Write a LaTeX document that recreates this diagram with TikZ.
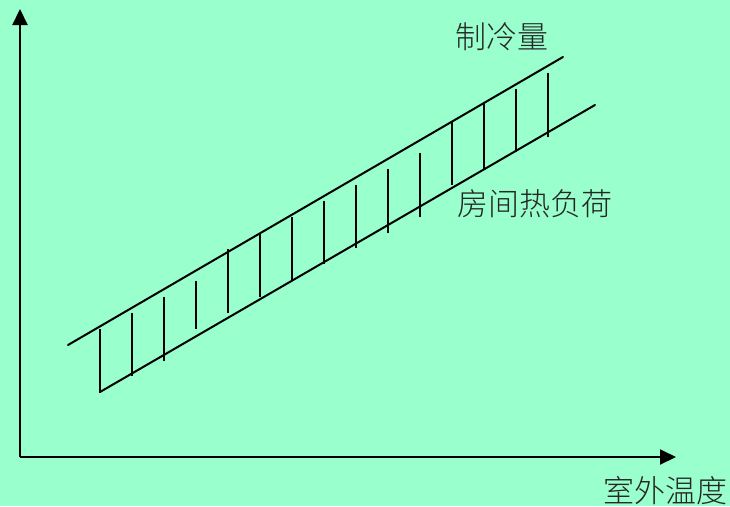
\documentclass[tikz,border=0pt]{standalone}
\usepackage{fontspec}
\newfontfamily\cjk{Noto Sans CJK SC Light}
\usetikzlibrary{arrows.meta}
\definecolor{bg}{RGB}{153,255,204}
\begin{document}
\begin{tikzpicture}[x=1pt,y=-1pt,
  axis/.style={line width=2pt,-{Triangle[length=16pt,width=15pt]}},
  band/.style={line width=2pt,line cap=round},
  bar/.style={line width=2pt},
  lbl/.style={inner sep=0pt,font=\cjk\fontsize{31}{31}\selectfont,text=black!85}]
\fill[bg] (0,0) rectangle (730,506);
\useasboundingbox (0,0) rectangle (730,506);
% axes
\coordinate (O) at (20,457);
\coordinate (Ytop) at (20,9);
\coordinate (Xend) at (676,457);
\draw[axis] (O) -- (Ytop);
\draw[axis] (O) -- (Xend);
% band lines
\coordinate (U1) at (68,345);
\coordinate (U2) at (563,57);
\coordinate (L1) at (100,392);
\coordinate (L2) at (595,105);
\draw[band] (U1) -- (U2);
\draw[band] (L1) -- (L2);
% vertical bars
\foreach \x/\a/\b in {100/329/393,132/313/376,164/297/361,196/281/329,228/249/313,260/233/297,292/217/281,324/201/264,356/185/248,388/169/233,420/153/217,452/121/185,484/104/169,516/89/152,548/73/137}
  \draw[bar] (\x,\a) -- (\x,\b);
% labels
\node[lbl] (cool) at (502,37) {制冷量};
\node[lbl] (load) at (535,204) {房间热负荷};
\node[lbl] (temp) at (665,491) {室外温度};
\end{tikzpicture}
\end{document}
